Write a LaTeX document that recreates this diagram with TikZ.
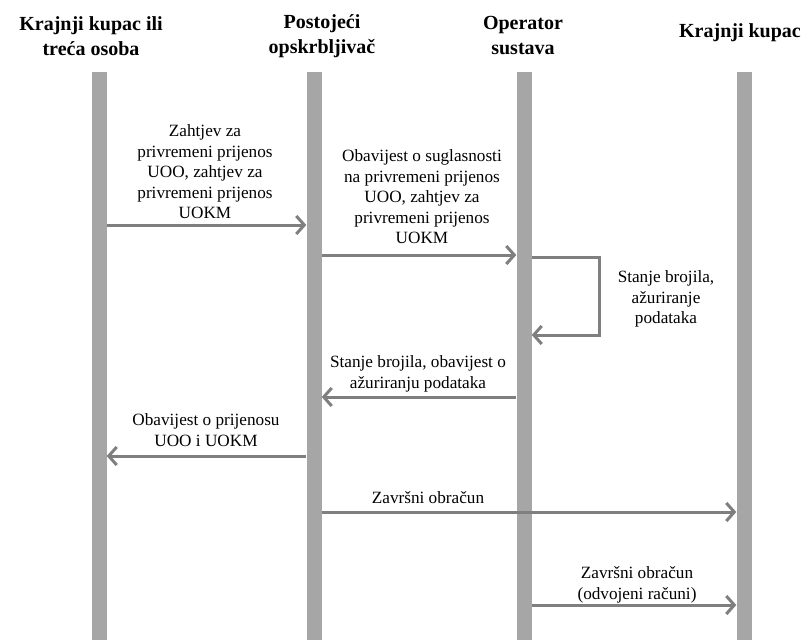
\documentclass[tikz,border=0pt]{standalone}
\usepackage{fontspec}
\setmainfont{Liberation Serif}
\usetikzlibrary{arrows.meta}
\definecolor{barcol}{HTML}{A6A6A6}
\definecolor{arrcol}{HTML}{7F7F7F}
\begin{document}
\begin{tikzpicture}[x=1pt,y=-1pt,
  bar/.style={fill=barcol,draw=none,minimum width=15pt,minimum height=568pt,inner sep=0pt},
  msg/.style={draw=arrcol,line width=3pt,-{Straight Barb[length=8pt,width=18pt]}},
  lbl/.style={align=center,font=\fontsize{17.2}{20.5}\selectfont,inner sep=0pt},
  hdr/.style={align=center,font=\bfseries\fontsize{20}{25}\selectfont,inner sep=0pt}]
\useasboundingbox (0,0) rectangle (812,640);
% headers
\node[hdr] (h1) at (91,36) {Krajnji kupac ili\\treća osoba};
\node[hdr] (h2) at (322,36) {Postojeći\\opskrbljivač};
\node[hdr] (h3) at (523,35) {Operator\\sustava};
\node[hdr] (h4) at (740,33) {Krajnji kupac};
% lifelines
\node[bar] (b1) at (99,356) {};
\node[bar] (b2) at (314,356) {};
\node[bar] (b3) at (524,356) {};
\node[bar] (b4) at (744,356) {};
% levels
\coordinate (y1) at (0,225);
\coordinate (y2) at (0,255);
\coordinate (y3a) at (0,257);
\coordinate (y3b) at (0,335);
\coordinate (y4) at (0,397);
\coordinate (y5) at (0,456);
\coordinate (y6) at (0,512);
\coordinate (y7) at (0,605);
% messages
\draw[msg] (b1.east |- y1) -- (b2.west |- y1);
\draw[msg] (b2.east |- y2) -- (b3.west |- y2);
\draw[msg] (b3.east |- y3a) -- ++(68,0) |- (b3.east |- y3b);
\draw[msg] (b3.west |- y4) -- (b2.east |- y4);
\draw[msg] (b2.west |- y5) -- (b1.east |- y5);
\draw[msg] (b2.east |- y6) -- (b4.west |- y6);
\draw[msg] (b3.east |- y7) -- (b4.west |- y7);
% labels
\node[lbl] (l1) at (205,172) {Zahtjev za\\privremeni prijenos\\UOO, zahtjev za\\privremeni prijenos\\UOKM};
\node[lbl] (l2) at (422,197) {Obavijest o suglasnosti\\na privremeni prijenos\\UOO, zahtjev za\\privremeni prijenos\\UOKM};
\node[lbl] (l3) at (666,299) {Stanje brojila,\\ažuriranje\\podataka};
\node[lbl] (l4) at (418,374) {Stanje brojila, obavijest o\\ažuriranju podataka};
\node[lbl] (l5) at (206,430) {Obavijest o prijenosu\\UOO i UOKM};
\node[lbl] (l6) at (428,498) {Završni obračun};
\node[lbl] (l7) at (637,585) {Završni obračun\\(odvojeni računi)};
\end{tikzpicture}
\end{document}
